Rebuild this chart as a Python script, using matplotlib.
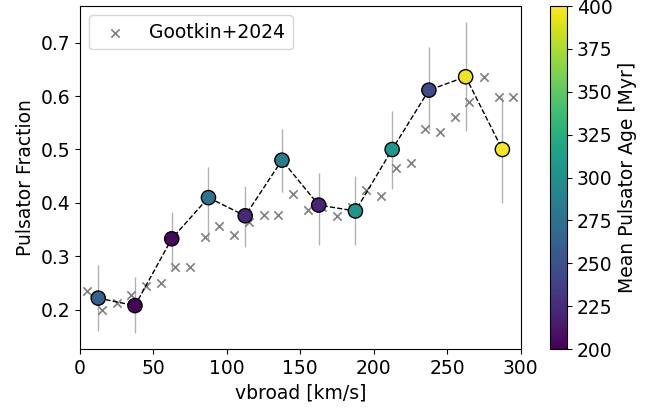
import numpy as np
import matplotlib
matplotlib.use("Agg")
import matplotlib.pyplot as plt

# Binned pulsator fraction (this work)
bin_centers = [12.5, 37.5, 62.5, 87.5, 112.5, 137.5, 162.5, 187.5, 212.5, 237.5, 262.5, 287.5]
frac = [0.222, 0.208, 0.333, 0.410, 0.376, 0.480, 0.396, 0.385, 0.500, 0.611, 0.636, 0.500]
err_lo = [0.062, 0.052, 0.059, 0.077, 0.058, 0.060, 0.074, 0.063, 0.073, 0.074, 0.102, 0.100]
err_hi = [0.062, 0.054, 0.051, 0.057, 0.056, 0.059, 0.060, 0.066, 0.072, 0.081, 0.103, 0.098]
mean_age = [262, 202, 205, 278, 222, 283, 220, 303, 306, 245, 395, 397]

# Gootkin+2024
g_x = [5, 15, 25, 35, 45, 55, 65, 75, 85, 95, 105, 115, 125, 135, 145, 155, 165, 175,
       185, 195, 205, 215, 225, 235, 245, 255, 265, 275, 285, 295]
g_y = [0.235, 0.199, 0.212, 0.228, 0.244, 0.250, 0.281, 0.281, 0.337, 0.356, 0.340, 0.365,
       0.377, 0.377, 0.417, 0.386, 0.392, 0.375, 0.392, 0.425, 0.413, 0.465, 0.475, 0.538,
       0.533, 0.561, 0.588, 0.636, 0.599, 0.599]

plt.rcParams['font.size'] = 13.5
fig = plt.figure(figsize=(6.6, 4.08), dpi=100)
ax = fig.add_axes([0.121, 0.1446, 0.668, 0.8404])
cax = fig.add_axes([0.833, 0.1446, 0.026, 0.8404])

ax.scatter(g_x, g_y, marker='x', color='grey', s=36, linewidths=1.2, label='Gootkin+2024', zorder=2)
ax.errorbar(bin_centers, frac, yerr=[err_lo, err_hi], fmt='none', ecolor='grey', alpha=0.6,
            elinewidth=1, zorder=1)
ax.plot(bin_centers, frac, 'k--', lw=1, zorder=3)
sc = ax.scatter(bin_centers, frac, c=mean_age, cmap='viridis', vmin=200, vmax=400, s=105,
                edgecolors='black', linewidths=1, zorder=4)

ax.set_xlim(0, 300)
ax.set_xlabel('vbroad [km/s]')
ax.set_ylabel('Pulsator Fraction')
ax.legend(loc='upper left')

cb = fig.colorbar(sc, cax=cax)
cb.set_label('Mean Pulsator Age [Myr]')

fig.savefig('out.png', dpi=100)
